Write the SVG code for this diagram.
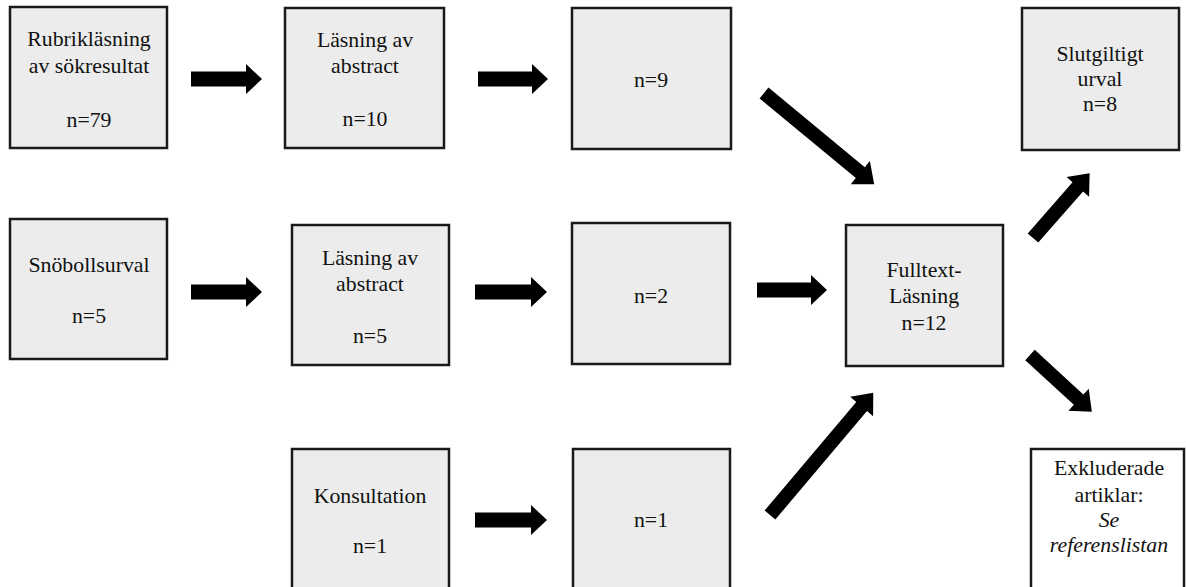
<svg xmlns="http://www.w3.org/2000/svg" width="1186" height="587" viewBox="0 0 1186 587">
<style>
.box{fill:#ececec;stroke:#1a1a1a;stroke-width:2.5}
.ebox{fill:#ffffff;stroke:#1a1a1a;stroke-width:2.5}
text{font-family:"Liberation Serif","Times New Roman",serif;font-size:21.8px;fill:#111;text-anchor:middle}
.it{font-style:italic}
.arr{fill:#000}
</style>
<rect width="1186" height="587" fill="#ffffff"/>
<g id="n-rubrik"><rect class="box" x="10" y="7" width="157" height="141"/><text x="89" y="46">Rubrikläsning</text><text x="89" y="73">av sökresultat</text><text x="89" y="127">n=79</text></g>
<g id="n-abstract1"><rect class="box" x="285" y="8" width="159" height="140"/><text x="365" y="47">Läsning av</text><text x="365" y="73">abstract</text><text x="365" y="126">n=10</text></g>
<g id="n-n9"><rect class="box" x="572" y="8" width="159" height="141"/><text x="651" y="87">n=9</text></g>
<g id="n-slut"><rect class="box" x="1022" y="8" width="157" height="142"/><text x="1100" y="61">Slutgiltigt</text><text x="1100" y="86">urval</text><text x="1100" y="111">n=8</text></g>
<g id="n-snoboll"><rect class="box" x="10" y="219" width="157" height="140"/><text x="89" y="272">Snöbollsurval</text><text x="89" y="323">n=5</text></g>
<g id="n-abstract2"><rect class="box" x="292" y="225" width="157" height="140"/><text x="370" y="265">Läsning av</text><text x="370" y="291">abstract</text><text x="370" y="343">n=5</text></g>
<g id="n-n2"><rect class="box" x="572" y="223" width="158" height="141"/><text x="651" y="303">n=2</text></g>
<g id="n-fulltext"><rect class="box" x="846" y="225" width="157" height="141"/><text x="924" y="277">Fulltext-</text><text x="924" y="303">Läsning</text><text x="924" y="330">n=12</text></g>
<g id="n-konsult"><rect class="box" x="292" y="449" width="157" height="150"/><text x="370" y="503">Konsultation</text><text x="370" y="553">n=1</text></g>
<g id="n-n1"><rect class="box" x="573" y="449" width="157" height="150"/><text x="651" y="527">n=1</text></g>
<g id="n-exkl"><rect class="ebox" x="1031" y="449" width="153" height="150"/><text x="1109" y="475">Exkluderade</text><text x="1109" y="502">artiklar:</text><text x="1109" y="527" class="it">Se</text><text x="1109" y="552" class="it">referenslistan</text></g>
<g id="connectors">
<path class="arr" d="M191,71.5 H246 V64 L262,79 L246,94 V86.5 H191 Z"/>
<path class="arr" d="M478,71.5 H532 V64 L548,79 L532,94 V86.5 H478 Z"/>
<path class="arr" d="M191,284.5 H246 V277 L262,292 L246,307 V299.5 H191 Z"/>
<path class="arr" d="M475,284.5 H531 V277 L547,292 L531,307 V299.5 H475 Z"/>
<path class="arr" d="M757,282.5 H811 V275 L827,290 L811,305 V297.5 H757 Z"/>
<path class="arr" d="M475,512.5 H531 V505 L547,520 L531,535 V527.5 H475 Z"/>
<path class="arr" transform="translate(764,93) rotate(39.6)" d="M0,-7 H125 V-15 L143,0 L125,15 V7 H0 Z"/>
<path class="arr" transform="translate(770,515) rotate(-49.8)" d="M0,-7 H142 V-15 L160,0 L142,15 V7 H0 Z"/>
<path class="arr" transform="translate(1033,238) rotate(-48.8)" d="M0,-7 H68 V-15 L86,0 L68,15 V7 H0 Z"/>
<path class="arr" transform="translate(1030,355) rotate(42.6)" d="M0,-7 H66 V-15 L84,0 L66,15 V7 H0 Z"/>
</g>
</svg>
